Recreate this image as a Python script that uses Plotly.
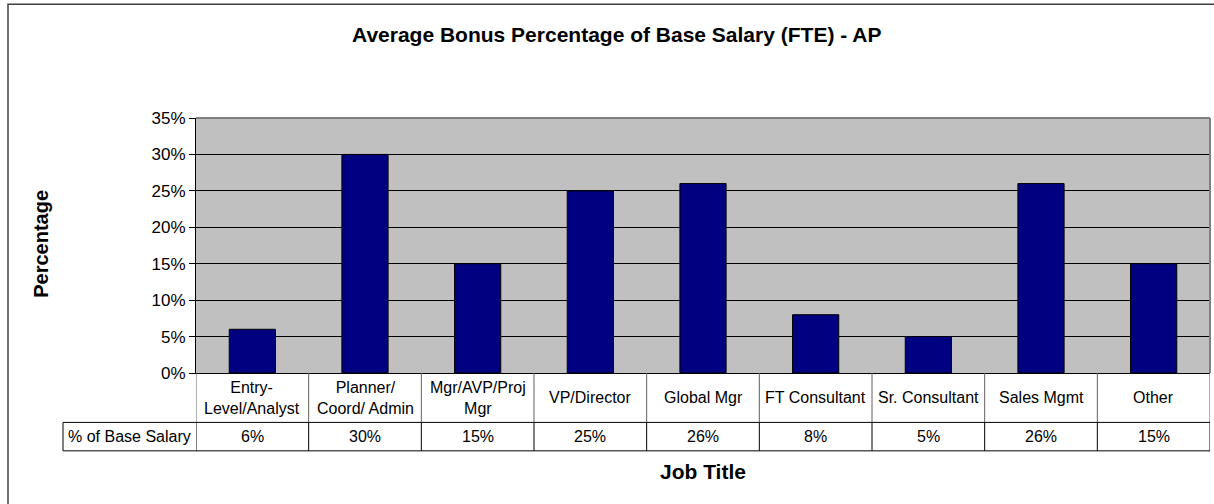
import plotly.graph_objects as go

# ---- data ----
categories = ["Entry-Level/Analyst", "Planner/Coord/ Admin", "Mgr/AVP/Proj Mgr", "VP/Director",
              "Global Mgr", "FT Consultant", "Sr. Consultant", "Sales Mgmt", "Other"]
category_labels = ["Entry-<br>Level/Analyst", "Planner/<br>Coord/ Admin", "Mgr/AVP/Proj<br>Mgr",
                   "VP/Director", "Global Mgr", "FT Consultant", "Sr. Consultant", "Sales Mgmt", "Other"]
values = [0.06, 0.30, 0.15, 0.25, 0.26, 0.08, 0.05, 0.26, 0.15]
series_name = "% of Base Salary"
y_ticks = [0, 0.05, 0.10, 0.15, 0.20, 0.25, 0.30, 0.35]

title_text = "Average Bonus Percentage of Base Salary (FTE) - AP"
x_title = "Job Title"
y_title = "Percentage"

# ---- layout constants (pixels) ----
W, H = 1214, 504
L, R, T, B = 196, 4, 118, 130.5
pw, ph = W - L - R, H - T - B

def px_x(x):  # pixel -> paper x
    return (x - L) / pw

def px_y(y):  # pixel -> paper y
    return (H - B - y) / ph

FONT = "Liberation Sans, Arial, sans-serif"
TABLE_FS = 16

n = len(categories)
xs = list(range(n))

fig = go.Figure()
fig.add_trace(go.Bar(
    x=xs, y=values, name=series_name, width=0.41,
    marker=dict(color="#000080", line=dict(color="black", width=1)),
    hoverinfo="y",
))

row1_bot = px_y(423)
row2_bot = px_y(451.5)
label_left = px_x(63)

shapes = []
# outer chart border
shapes.append(dict(type="rect", xref="paper", yref="paper",
                   x0=px_x(8), x1=px_x(1222), y0=px_y(512), y1=px_y(4),
                   line=dict(color="#404040", width=1.5), fillcolor="rgba(0,0,0,0)", layer="below"))
# plot area top and right border (gray)
shapes.append(dict(type="line", xref="paper", yref="paper", x0=0, x1=1, y0=1, y1=1,
                   line=dict(color="#808080", width=2)))
shapes.append(dict(type="line", xref="paper", yref="paper", x0=1, x1=1, y0=0, y1=1,
                   line=dict(color="#808080", width=2)))
# table horizontal lines
shapes.append(dict(type="line", xref="paper", yref="paper", x0=label_left, x1=1, y0=row1_bot, y1=row1_bot,
                   line=dict(color="black", width=1)))
shapes.append(dict(type="line", xref="paper", yref="paper", x0=label_left, x1=1, y0=row2_bot, y1=row2_bot,
                   line=dict(color="black", width=1)))
# label column left border
shapes.append(dict(type="line", xref="paper", yref="paper", x0=label_left, x1=label_left, y0=row2_bot, y1=row1_bot,
                   line=dict(color="black", width=1)))
# vertical dividers between categories (data coords on x)
for i in range(n + 1):
    xb = i - 0.5
    shapes.append(dict(type="line", xref="x", yref="paper", x0=xb, x1=xb, y0=row1_bot, y1=0,
                       line=dict(color="#606060", width=1)))
    shapes.append(dict(type="line", xref="x", yref="paper", x0=xb, x1=xb, y0=row2_bot, y1=row1_bot,
                       line=dict(color="black", width=1)))

annotations = []
row1_mid = (0 + row1_bot) / 2
row2_mid = (row1_bot + row2_bot) / 2
for i, (lab, v) in enumerate(zip(category_labels, values)):
    annotations.append(dict(x=i, y=row1_mid, xref="x", yref="paper", text=lab, showarrow=False,
                            font=dict(family=FONT, size=TABLE_FS, color="black"), align="center",
                            xanchor="center", yanchor="middle"))
    annotations.append(dict(x=i, y=row2_mid, xref="x", yref="paper", text=f"{round(v*100)}%", showarrow=False,
                            font=dict(family=FONT, size=TABLE_FS, color="black"),
                            xanchor="center", yanchor="middle"))
annotations.append(dict(x=px_x(66), y=row2_mid, xref="paper", yref="paper", text=series_name, showarrow=False,
                        font=dict(family=FONT, size=TABLE_FS, color="black"), xanchor="left", yanchor="middle"))
# axis titles
annotations.append(dict(x=0.5, y=px_y(472), xref="paper", yref="paper", text=f"<b>{x_title}</b>",
                        showarrow=False, font=dict(family=FONT, size=21, color="black"),
                        xanchor="center", yanchor="middle"))
annotations.append(dict(x=px_x(41), y=px_y(244), xref="paper", yref="paper", text=f"<b>{y_title}</b>",
                        showarrow=False, textangle=-90, font=dict(family=FONT, size=20, color="black"),
                        xanchor="center", yanchor="middle"))
# title
annotations.append(dict(x=px_x(616), y=px_y(34), xref="paper", yref="paper", text=f"<b>{title_text}</b>",
                        showarrow=False, font=dict(family=FONT, size=21, color="black"),
                        xanchor="center", yanchor="middle"))

fig.update_layout(
    width=W, height=H,
    margin=dict(l=L, r=R, t=T, b=B, pad=0),
    paper_bgcolor="white", plot_bgcolor="#C0C0C0",
    showlegend=False,
    shapes=shapes, annotations=annotations,
    font=dict(family=FONT, color="black"),
)
fig.update_xaxes(range=[-0.5, n - 0.5], showticklabels=False, showgrid=False, zeroline=False,
                 showline=True, linecolor="black", linewidth=1, ticks="", fixedrange=True)
fig.update_yaxes(range=[0, 0.35], tickvals=y_ticks, tickformat=".0%", showgrid=True, gridcolor="black",
                 gridwidth=1, zeroline=False, showline=True, linecolor="black", linewidth=1,
                 ticks="outside", ticklen=6, tickcolor="black", tickfont=dict(family=FONT, size=17, color="black"),
                 fixedrange=True)

fig.write_html("out.html", config={"displayModeBar": False},
               post_script="document.body.style.margin='0';document.body.style.overflow='hidden';")
